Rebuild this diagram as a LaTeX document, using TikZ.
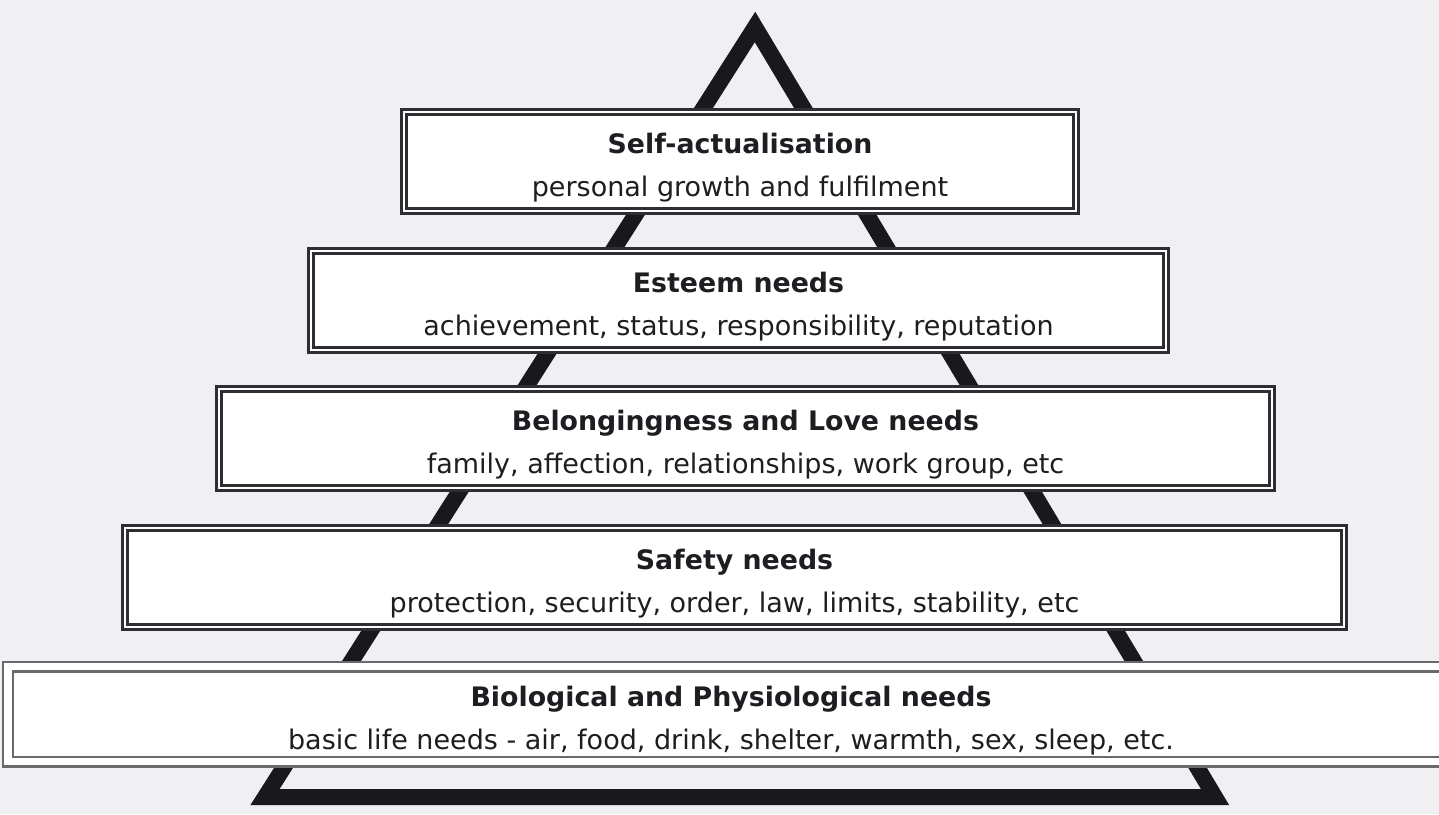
\documentclass[tikz,border=0pt]{standalone}
\usepackage{fontspec}
\setmainfont{DejaVu Sans}
\usepackage{xcolor}
\definecolor{paper}{RGB}{240,240,242}
\definecolor{boxline}{RGB}{45,45,50}
\definecolor{groundline}{RGB}{105,105,110}
\definecolor{pyramid}{RGB}{25,25,28}
\definecolor{ink}{RGB}{30,30,34}

\newcommand{\tiertitle}[1]{\rule{0pt}{16.5pt}{\fontsize{13.4}{21.5}\selectfont\bfseries #1}}

\begin{document}
\begin{tikzpicture}[
  x=0.5pt, y=-0.5pt,
  tier/.style={rectangle, draw=boxline, line width=1.5pt, double=white, double distance=1pt, fill=white, text=ink, align=center, inner sep=0pt, minimum height=49.5pt, font=\fontsize{13.5}{21.5}\selectfont},
  groundtier/.style={tier, draw=groundline, line width=1.2pt, double distance=3.6pt, minimum height=47.5pt},
  frame/.style={draw=pyramid, line width=8pt, line join=miter}
]
  \fill[paper] (0,0) rectangle (1439,814);
  \useasboundingbox (0,0) rectangle (1439,814);

  % Pyramid outline
  \coordinate (apex) at (755,27);
  \coordinate (right) at (1215,797);
  \coordinate (left) at (265,797);
  \draw[frame] (apex) -- (right) -- (left) -- cycle;

  % Tiers, top to bottom
  \node[tier, minimum width=336pt] (selfact) at (740,161.5) {\tiertitle{Self-actualisation}\\personal growth and fulfilment};
  \node[tier, minimum width=427.5pt] (esteem) at (738.5,300) {\tiertitle{Esteem needs}\\achievement, status, responsibility, reputation};
  \node[tier, minimum width=526.5pt] (belong) at (745.5,438.5) {\tiertitle{Belongingness and Love needs}\\family, affection, relationships, work group, etc};
  \node[tier, minimum width=609.5pt] (safety) at (734.5,577) {\tiertitle{Safety needs}\\protection, security, order, law, limits, stability, etc};
  \node[groundtier, minimum width=723pt] (bio) at (731,714) {\tiertitle{Biological and Physiological needs}\\basic life needs - air, food, drink, shelter, warmth, sex, sleep, etc.};
\end{tikzpicture}
\end{document}
